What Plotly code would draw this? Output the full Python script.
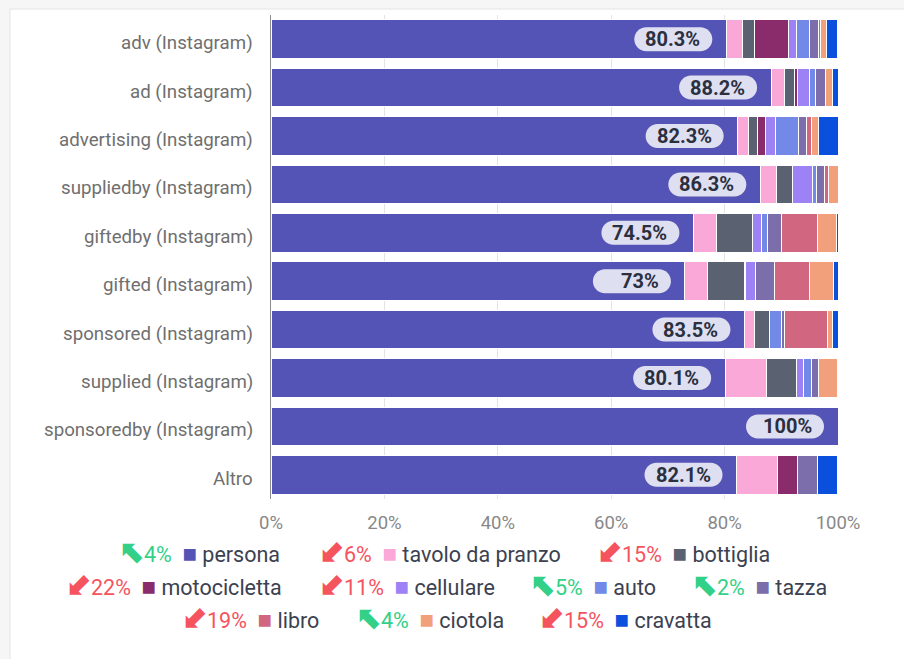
import plotly.graph_objects as go

categories = ["adv (Instagram)", "ad (Instagram)", "advertising (Instagram)", "suppliedby (Instagram)",
              "giftedby (Instagram)", "gifted (Instagram)", "sponsored (Instagram)", "supplied (Instagram)",
              "sponsoredby (Instagram)", "Altro"]

series_names = ["persona", "tavolo da pranzo", "bottiglia", "motocicletta", "cellulare",
                "auto", "tazza", "libro", "ciotola", "cravatta"]
series_colors = ["#5453b6", "#f9a8d8", "#5a6171", "#8a2c6b", "#9d82f6",
                 "#7389e8", "#7b6eaa", "#d0667f", "#f2a07c", "#0b50dc"]

persona = [80.3, 88.2, 82.3, 86.3, 74.5, 73.0, 83.5, 80.1, 100.0, 82.1]
tavolo = [2.9, 2.4, 1.9, 2.9, 4.1, 4.0, 1.75, 7.35, 0, 7.2]
bottiglia = [2.0, 1.7, 1.6, 2.7, 6.3, 6.45, 2.65, 5.2, 0, 0]
motocicletta = [6.1, 0.5, 1.35, 0, 0, 0.2, 0, 0, 0, 3.5]
cellulare = [1.35, 2.2, 1.75, 3.6, 1.6, 1.8, 0, 1.25, 0, 0]
auto = [2.3, 1.05, 4.2, 0.7, 1.05, 0, 2.05, 1.35, 0, 0]
tazza = [1.65, 1.7, 1.3, 1.35, 2.45, 3.4, 0.6, 1.35, 0, 3.5]
libro = [0.4, 0, 0.95, 0.7, 6.3, 6.15, 7.65, 0, 0, 0]
ciotola = [1.05, 1.35, 1.2, 1.75, 3.4, 4.2, 0.9, 3.35, 0, 0]
cravatta = [1.9, 0.9, 3.5, 0, 0.35, 0.8, 0.9, 0, 0, 3.65]

series_values = [persona, tavolo, bottiglia, motocicletta, cellulare, auto, tazza, libro, ciotola, cravatta]

legend_deltas = [4, -6, -15, -22, -11, 5, 2, -19, 4, -15]

x_tickvals = [0, 20, 40, 60, 80, 100]
x_ticktext = ["0%", "20%", "40%", "60%", "80%", "100%"]

# page geometry (pixels)
W, H = 904, 659
L, R, T, B = 271, 838, 15, 499

def px_x(p):
    return (p - L) / (R - L)

def px_y(p):
    return (B - p) / (B - T)

fig = go.Figure()
for name, color, vals in zip(series_names, series_colors, series_values):
    fig.add_trace(go.Bar(
        y=categories, x=vals, name=name, orientation="h",
        marker=dict(color=color, line=dict(color="white", width=1)),
        hoverinfo="x+name",
    ))

shapes = []
# card background
shapes.append(dict(type="rect", xref="paper", yref="paper",
                   x0=px_x(10), x1=px_x(920), y0=px_y(680), y1=px_y(9),
                   fillcolor="white", line=dict(color="#e4e4e4", width=1), layer="below"))

annotations = []
# category labels (slightly below bar centre, as in the original)
for cat in categories:
    annotations.append(dict(x=0, y=cat, xref="paper", yref="y", text=cat, showarrow=False,
                            xanchor="right", yanchor="middle", xshift=-16, yshift=-4,
                            font=dict(family="Roboto", size=18.7, color="#6f6f6f")))

k = 0.5523
r = 12
xr, xl = -14, -92
path = (f"M {xl + r},{-r} H {xr - r} "
        f"C {xr - r + r * k},{-r} {xr},{-r * k} {xr},0 "
        f"C {xr},{r * k} {xr - r + r * k},{r} {xr - r},{r} "
        f"H {xl + r} "
        f"C {xl + r - r * k},{r} {xl},{r * k} {xl},0 "
        f"C {xl},{-r * k} {xl + r - r * k},{-r} {xl + r},{-r} Z")
for cat, v in zip(categories, persona):
    shapes.append(dict(type="path", xref="x", yref="y", xsizemode="pixel", ysizemode="pixel",
                       xanchor=v, yanchor=cat, path=path,
                       fillcolor="#dfdff2", line=dict(width=0), layer="above"))
    label = f"{v:g}%"
    annotations.append(dict(x=v, y=cat, xref="x", yref="y", text=f"<b>{label}</b>",
                            showarrow=False, xanchor="right", yanchor="middle", xshift=-24,
                            font=dict(family="Roboto", size=20, color="#2b3040")))

# legend rows as annotations
legend_pos = [(117, 551), (317, 551), (595, 551),
              (64, 584), (317, 584), (528, 584), (690, 584),
              (180, 617), (354, 617), (537, 617)]
for name, color, d, (lx, ly) in zip(series_names, series_colors, legend_deltas, legend_pos):
    if d >= 0:
        dc, arrow = "#33d088", "⬉"
    else:
        dc, arrow = "#f5535e", "⬋"
    text = (f"<span style='color:{dc};font-size:30px'><b>{arrow}</b></span>"
            f"<span style='color:{dc}'>{abs(d)}%</span>  "
            f"<span style='color:{color};font-size:24px'>■</span> "
            f"<span style='color:#3b4150'>{name}</span>")
    annotations.append(dict(x=px_x(lx), y=px_y(ly), xref="paper", yref="paper", text=text,
                            showarrow=False, xanchor="left", yanchor="middle",
                            font=dict(family="Roboto", size=21.5, color="#3b4150")))

fig.update_layout(
    width=W, height=H,
    barmode="stack", bargap=0.2,
    showlegend=False,
    margin=dict(l=L, r=W - R, t=T, b=H - B, pad=0),
    paper_bgcolor="#f6f6f6", plot_bgcolor="rgba(0,0,0,0)",
    font=dict(family="Roboto", color="#707070"),
    shapes=shapes, annotations=annotations,
    xaxis=dict(range=[0, 100], tickvals=x_tickvals, ticktext=x_ticktext,
               showgrid=True, gridcolor="#e3e3e3", gridwidth=1, zeroline=False,
               tickfont=dict(size=18.5, color="#888888"), ticklabelstandoff=10,
               showline=False, fixedrange=True),
    yaxis=dict(autorange="reversed", showline=True, linecolor="#8c8c8c", linewidth=1,
               showticklabels=False, showgrid=False, fixedrange=True),
)

fig.write_html("out.html", config={"displayModeBar": False},
               post_script="document.body.style.margin='0';")
